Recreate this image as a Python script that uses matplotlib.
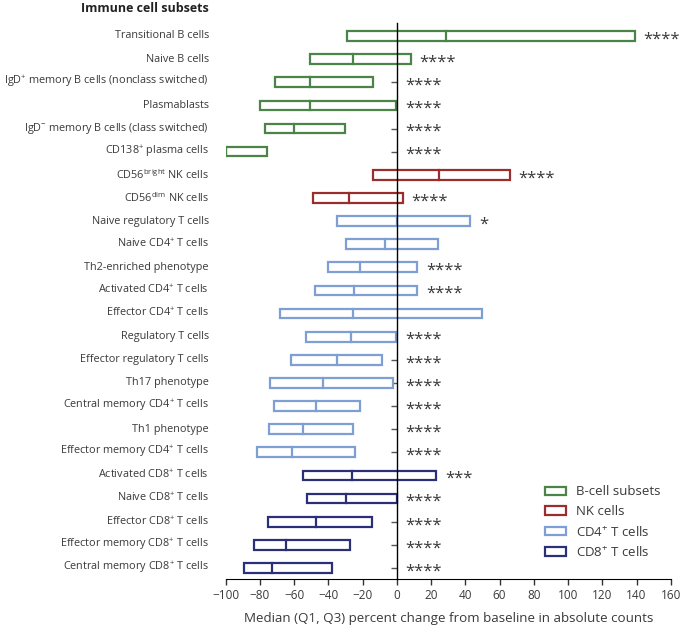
import matplotlib
matplotlib.use("Agg")
import matplotlib.pyplot as plt
from matplotlib.patches import Patch
from matplotlib.transforms import blended_transform_factory

plt.rcParams["font.family"] = ["Open Sans", "DejaVu Sans"]
plt.rcParams["mathtext.fontset"] = "custom"
plt.rcParams["mathtext.rm"] = "Open Sans"
plt.rcParams["mathtext.it"] = "Open Sans:italic"
plt.rcParams["mathtext.bf"] = "Open Sans:bold"

# data (top to bottom)
labels = [
    "Transitional B cells",
    "Naive B cells",
    r"IgD$^{+}$ memory B cells (nonclass switched)",
    "Plasmablasts",
    r"IgD$^{-}$ memory B cells (class switched)",
    r"CD138$^{+}$ plasma cells",
    r"CD56$^{\mathrm{bright}}$ NK cells",
    r"CD56$^{\mathrm{dim}}$ NK cells",
    "Naive regulatory T cells",
    r"Naive CD4$^{+}$ T cells",
    "Th2-enriched phenotype",
    r"Activated CD4$^{+}$ T cells",
    r"Effector CD4$^{+}$ T cells",
    "Regulatory T cells",
    "Effector regulatory T cells",
    "Th17 phenotype",
    r"Central memory CD4$^{+}$ T cells",
    "Th1 phenotype",
    r"Effector memory CD4$^{+}$ T cells",
    r"Activated CD8$^{+}$ T cells",
    r"Naive CD8$^{+}$ T cells",
    r"Effector CD8$^{+}$ T cells",
    r"Effector memory CD8$^{+}$ T cells",
    r"Central memory CD8$^{+}$ T cells",
]
q1 = [-29, -51, -71, -80, -77, -100, -14, -49,
      -35, -30, -40.5, -48, -68.5, -53, -62, -74, -72, -75, -82,
      -55, -52.5, -75.5, -83.5, -89.5]
median = [28.5, -25.5, -50.5, -50.5, -60, -100, 24.5, -28,
          0, -7, -21.5, -25, -25.5, -27, -35, -43, -47, -55, -61,
          -26.5, -29.5, -47.5, -65, -73]
q3 = [139, 8, -14, -0.5, -30.5, -76, 66, 3.5,
      43, 24, 12, 12, 49.5, -0.5, -8.5, -2.5, -21.5, -25.5, -24.5,
      23, 0, -14.5, -27.5, -38]
groups = ["B"] * 6 + ["NK"] * 2 + ["CD4"] * 11 + ["CD8"] * 5
stars = ["****"] * 8 + ["*", "", "****", "****", "", "****", "****", "****",
                        "****", "****", "****", "***", "****", "****", "****", "****"]

group_names = ["B", "NK", "CD4", "CD8"]
group_labels = ["B-cell subsets", "NK cells", r"CD4$^{+}$ T cells", r"CD8$^{+}$ T cells"]
colors = {"B": "#4a8547", "NK": "#9a2e2e", "CD4": "#7e9fd3", "CD8": "#2b2f78"}
text_color = "#3a3a3a"

fig = plt.figure(figsize=(6.82, 6.27), dpi=100)
ax = fig.add_axes([0.331, 0.0761, 0.6525, 0.8877])

n = len(labels)
bar_h = 0.42
for i in range(n):
    c = colors[groups[i]]
    ax.barh(i, q3[i] - q1[i], left=q1[i], height=bar_h, facecolor="white",
            edgecolor=c, linewidth=1.6, zorder=2)
    ax.plot([median[i], median[i]], [i - bar_h / 2, i + bar_h / 2], color=c,
            linewidth=1.6, zorder=3)
    if stars[i]:
        ax.text(max(q3[i], 0) + 5, i + 0.15, stars[i], ha="left", va="center",
                fontsize=12, color=text_color, zorder=4)

ax.set_xlim(-100, 160)
ax.set_ylim(n - 0.51, -0.575)
ax.set_xticks(range(-100, 161, 20))
ax.set_xticklabels([str(v).replace("-", "\u2212") for v in range(-100, 161, 20)],
                   fontsize=8.5, color=text_color)
ax.tick_params(axis="x", direction="out", length=4, width=1, color="#333333", pad=3)

ax.spines["top"].set_visible(False)
ax.spines["right"].set_visible(False)
ax.spines["left"].set_position(("data", 0))
ax.spines["left"].set_zorder(5)
ax.spines["left"].set_linewidth(1)
ax.set_yticks(range(n))
ax.set_yticklabels([])
ax.tick_params(axis="y", direction="out", length=4, width=1, color="#555555")

trans = blended_transform_factory(ax.transAxes, ax.transData)
for i, lab in enumerate(labels):
    ax.text(-0.038, i, lab, transform=trans, ha="right", va="center",
            fontsize=7.8, color=text_color)

fig.text(209 / 682, 1 - 8 / 627, "Immune cell subsets", ha="right", va="center",
         fontsize=9.0, fontweight="bold", color="#222222")

ax.set_xlabel("Median (Q1, Q3) percent change from baseline in absolute counts",
              fontsize=9.6, color=text_color, labelpad=7)

handles = [Patch(facecolor="white", edgecolor=colors[g], linewidth=1.6)
           for g in group_names]
ax.legend(handles, group_labels, loc="upper left", bbox_to_anchor=(0.69, 0.19),
          frameon=False, fontsize=9.5, labelcolor=text_color, handlelength=1.6,
          handleheight=0.6, labelspacing=0.5, handletextpad=0.8)

fig.savefig("out.png", dpi=100)
